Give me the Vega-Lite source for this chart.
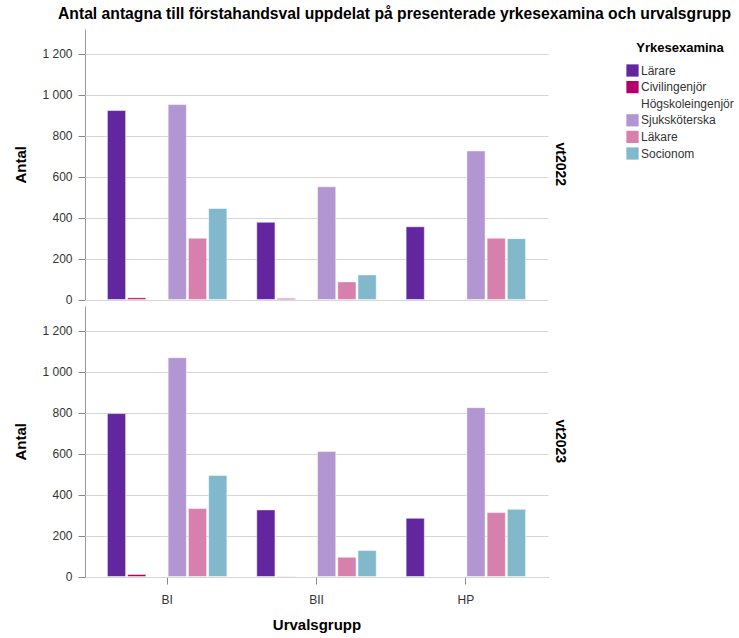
{
  "$schema": "https://vega.github.io/schema/vega-lite/v6.json",
  "padding": {"left": 13, "top": 6, "right": 5, "bottom": 5},
  "title": {"text": "Antal antagna till förstahandsval uppdelat på presenterade yrkesexamina och urvalsgrupp", "fontSize": 15.7, "font": "Liberation Sans", "fontWeight": "bold", "color": "#000000", "anchor": "start", "frame": "group", "offset": 6, "dx": -27},
  "config": {
    "font": "Liberation Sans",
    "view": {"stroke": null},
    "axis": {"labelFont": "Liberation Sans", "labelFontSize": 12, "labelColor": "#333333", "titleFont": "Liberation Sans", "titleFontSize": 15, "titleFontWeight": "bold", "titleColor": "#000000", "gridColor": "#d6d6d6", "tickColor": "#888888", "domainColor": "#999999"}
  },
  "data": {"values": [
    {"year": "vt2022", "grupp": "BI", "yrke": "Lärare", "antal": 922},
    {"year": "vt2022", "grupp": "BI", "yrke": "Civilingenjör", "antal": 8},
    {"year": "vt2022", "grupp": "BI", "yrke": "Sjuksköterska", "antal": 951},
    {"year": "vt2022", "grupp": "BI", "yrke": "Läkare", "antal": 299},
    {"year": "vt2022", "grupp": "BI", "yrke": "Socionom", "antal": 444},
    {"year": "vt2022", "grupp": "BII", "yrke": "Lärare", "antal": 377},
    {"year": "vt2022", "grupp": "BII", "yrke": "Civilingenjör", "antal": 5},
    {"year": "vt2022", "grupp": "BII", "yrke": "Sjuksköterska", "antal": 550},
    {"year": "vt2022", "grupp": "BII", "yrke": "Läkare", "antal": 86},
    {"year": "vt2022", "grupp": "BII", "yrke": "Socionom", "antal": 120},
    {"year": "vt2022", "grupp": "HP", "yrke": "Lärare", "antal": 355},
    {"year": "vt2022", "grupp": "HP", "yrke": "Sjuksköterska", "antal": 725},
    {"year": "vt2022", "grupp": "HP", "yrke": "Läkare", "antal": 299},
    {"year": "vt2022", "grupp": "HP", "yrke": "Socionom", "antal": 297},
    {"year": "vt2023", "grupp": "BI", "yrke": "Lärare", "antal": 795},
    {"year": "vt2023", "grupp": "BI", "yrke": "Civilingenjör", "antal": 10},
    {"year": "vt2023", "grupp": "BI", "yrke": "Sjuksköterska", "antal": 1068},
    {"year": "vt2023", "grupp": "BI", "yrke": "Läkare", "antal": 332},
    {"year": "vt2023", "grupp": "BI", "yrke": "Socionom", "antal": 493},
    {"year": "vt2023", "grupp": "BII", "yrke": "Lärare", "antal": 325},
    {"year": "vt2023", "grupp": "BII", "yrke": "Civilingenjör", "antal": 1},
    {"year": "vt2023", "grupp": "BII", "yrke": "Sjuksköterska", "antal": 610},
    {"year": "vt2023", "grupp": "BII", "yrke": "Läkare", "antal": 94},
    {"year": "vt2023", "grupp": "BII", "yrke": "Socionom", "antal": 127},
    {"year": "vt2023", "grupp": "HP", "yrke": "Lärare", "antal": 284},
    {"year": "vt2023", "grupp": "HP", "yrke": "Sjuksköterska", "antal": 824},
    {"year": "vt2023", "grupp": "HP", "yrke": "Läkare", "antal": 312},
    {"year": "vt2023", "grupp": "HP", "yrke": "Socionom", "antal": 328}
  ]},
  "facet": {"row": {"field": "year", "type": "nominal", "header": {"title": null, "labelOrient": "right", "labelAngle": 90, "labelFont": "Liberation Sans", "labelFontWeight": "bold", "labelFontSize": 14, "labelColor": "#000000", "labelPadding": 5}}},
  "spacing": 6,
  "resolve": {"scale": {"y": "shared"}},
  "spec": {
    "width": 463,
    "height": 270.5,
    "mark": {"type": "bar", "stroke": "#ffffff", "strokeWidth": 1, "strokeOpacity": 0.5},
    "encoding": {
      "x": {"field": "grupp", "type": "nominal", "sort": ["BI", "BII", "HP"], "scale": {"paddingInner": 0.2, "paddingOuter": 0.15}, "axis": {"title": "Urvalsgrupp", "labelAngle": 0, "labelPadding": 10, "titlePadding": 12, "tickSize": 7, "domainColor": "#777777", "labelColor": "#333333"}},
      "xOffset": {"field": "yrke", "type": "nominal", "scale": {"domain": ["Lärare", "Civilingenjör", "Högskoleingenjör", "Sjuksköterska", "Läkare", "Socionom"], "paddingInner": 0.1, "paddingOuter": 0}},
      "y": {"field": "antal", "type": "quantitative", "scale": {"domain": [0, 1320], "nice": false}, "axis": {"title": "Antal", "values": [0, 200, 400, 600, 800, 1000, 1200], "labelExpr": "replace(format(datum.value, ','), ',', ' ')", "tickSize": 7, "labelPadding": 6, "titlePadding": 13}},
      "color": {"field": "yrke", "type": "nominal", "scale": {"domain": ["Lärare", "Civilingenjör", "Högskoleingenjör", "Sjuksköterska", "Läkare", "Socionom"], "range": ["#62269e", "#b5006b", "transparent", "#b196d2", "#d77fad", "#82b8cc"]}, "legend": {"title": "Yrkesexamina", "orient": "none", "legendX": 541, "legendY": 13, "titleFont": "Liberation Sans", "titleFontSize": 13, "titleFontWeight": "bold", "titleColor": "#000000", "titleAnchor": "middle", "titlePadding": 9, "labelFont": "Liberation Sans", "labelFontSize": 12, "labelColor": "#333333", "symbolType": "square", "symbolSize": 150, "symbolStrokeWidth": 0, "labelOffset": 2, "rowPadding": 3.6}}
    }
  }
}
